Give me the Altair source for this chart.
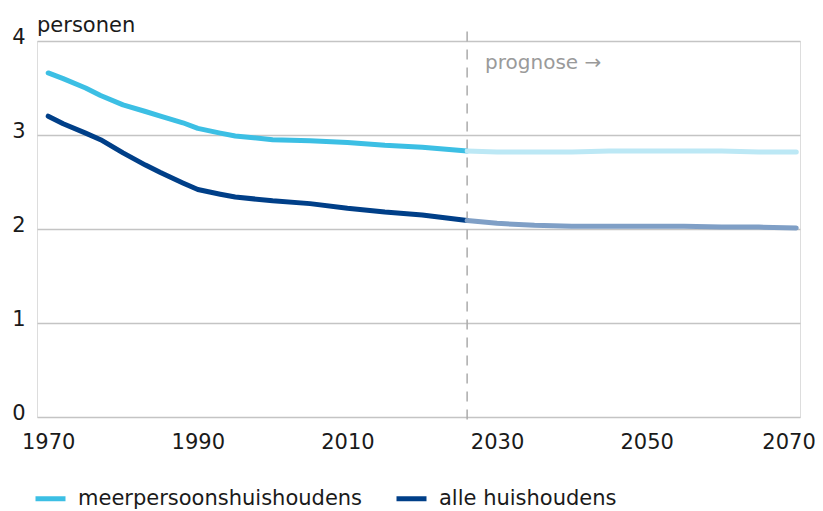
import altair as alt
import pandas as pd

# observed
obs_years = [1970, 1972, 1975, 1977, 1980, 1983, 1985, 1988, 1990, 1993, 1995,
             2000, 2005, 2010, 2015, 2020, 2026]
obs_meer = [3.66, 3.60, 3.50, 3.42, 3.32, 3.25, 3.20, 3.13, 3.07, 3.02, 2.99,
            2.95, 2.94, 2.92, 2.89, 2.87, 2.83]
obs_alle = [3.20, 3.12, 3.02, 2.95, 2.81, 2.68, 2.60, 2.49, 2.42, 2.37, 2.34,
            2.30, 2.27, 2.22, 2.18, 2.15, 2.09]

# prognosis
prog_years = [2026, 2030, 2035, 2040, 2045, 2050, 2055, 2060, 2065, 2070]
prog_meer = [2.83, 2.82, 2.82, 2.82, 2.83, 2.83, 2.83, 2.83, 2.82, 2.82]
prog_alle = [2.09, 2.06, 2.04, 2.03, 2.03, 2.03, 2.03, 2.02, 2.02, 2.01]

series_names = ["meerpersoonshuishoudens", "alle huishoudens"]
obs_colors = ["#3cbfe4", "#003f88"]
prog_colors = ["#bce8f5", "#7f9fc6"]

x_ticks = [1970, 1990, 2010, 2030, 2050, 2070]
y_ticks = [0, 1, 2, 3, 4]
split_year = 2026

FONT = "DejaVu Sans, sans-serif"

obs_rows = []
for y, a, b in zip(obs_years, obs_meer, obs_alle):
    obs_rows.append({"jaar": y, "waarde": a, "serie": series_names[0]})
    obs_rows.append({"jaar": y, "waarde": b, "serie": series_names[1]})
obs_df = pd.DataFrame(obs_rows)

prog_rows = []
for y, a, b in zip(prog_years, prog_meer, prog_alle):
    prog_rows.append({"jaar": y, "waarde": a, "serie": series_names[0], "kleur": prog_colors[0]})
    prog_rows.append({"jaar": y, "waarde": b, "serie": series_names[1], "kleur": prog_colors[1]})
prog_df = pd.DataFrame(prog_rows)

xscale = alt.Scale(domain=[1968.5, 2070.5], nice=False, zero=False)
yscale = alt.Scale(domain=[0, 4], nice=False)

xaxis = alt.Axis(values=x_ticks, format="d", grid=False, domain=False, ticks=False,
                 labelFontSize=21, labelFont=FONT, labelColor="#1a1a1a",
                 labelPadding=14, title=None, labelFlush=5, labelFlushOffset=19)
yaxis = alt.Axis(values=y_ticks, format="d", grid=True, gridColor="#c4c4c4", gridWidth=1.5,
                 domain=False, ticks=False, labelFontSize=21, labelFont=FONT,
                 labelColor="#1a1a1a", labelPadding=12, labelBaseline="alphabetic",
                 labelOffset=2, title=None)

obs = alt.Chart(obs_df).mark_line(strokeWidth=5, strokeCap="round", strokeJoin="round").encode(
    x=alt.X("jaar:Q", scale=xscale, axis=xaxis),
    y=alt.Y("waarde:Q", scale=yscale, axis=yaxis),
    color=alt.Color("serie:N", scale=alt.Scale(domain=series_names, range=obs_colors),
                    sort=series_names,
                    legend=alt.Legend(title=None, orient="none", legendX=-4, legendY=440,
                                      direction="horizontal", symbolType="stroke",
                                      symbolSize=900, symbolStrokeWidth=5,
                                      labelFontSize=21, labelFont=FONT, labelColor="#1a1a1a",
                                      labelOffset=10, columnPadding=23, labelLimit=400)),
)

prog = alt.Chart(prog_df).mark_line(strokeWidth=5, strokeCap="round", strokeJoin="round").encode(
    x=alt.X("jaar:Q", scale=xscale),
    y=alt.Y("waarde:Q", scale=yscale),
    color=alt.Color("kleur:N", scale=None),
    detail="serie:N",
)

rule_df = pd.DataFrame({"jaar": [split_year], "top": [4.1], "bottom": [-0.04]})
rule = alt.Chart(rule_df).mark_rule(color="#ababab", strokeWidth=1.5, strokeDash=[10, 8]).encode(
    x=alt.X("jaar:Q", scale=xscale),
    y=alt.Y("top:Q", scale=yscale),
    y2="bottom:Q",
)

label_df = pd.DataFrame({"jaar": [2028.4], "waarde": [3.77], "tekst": ["prognose →"]})
label = alt.Chart(label_df).mark_text(align="left", baseline="middle", fontSize=20,
                                      font=FONT, color="#9a9a9a").encode(
    x=alt.X("jaar:Q", scale=xscale),
    y=alt.Y("waarde:Q", scale=yscale),
    text="tekst:N",
)

title_df = pd.DataFrame({"jaar": [1968.5], "waarde": [4.096], "tekst": ["personen"]})
title = alt.Chart(title_df).mark_text(align="left", baseline="alphabetic", fontSize=21,
                                      font=FONT, color="#1a1a1a").encode(
    x=alt.X("jaar:Q", scale=xscale),
    y=alt.Y("waarde:Q", scale=yscale),
    text="tekst:N",
)

chart = alt.layer(rule, obs, prog, label, title).resolve_scale(color="independent").properties(
    width=763, height=376,
    autosize=alt.AutoSizeParams(type="none"),
    padding={"left": 29, "top": 33, "right": 15, "bottom": 92},
).configure_view(stroke=None).configure(background="white")

chart.save("out.html", embed_options={"renderer": "svg", "actions": False})
